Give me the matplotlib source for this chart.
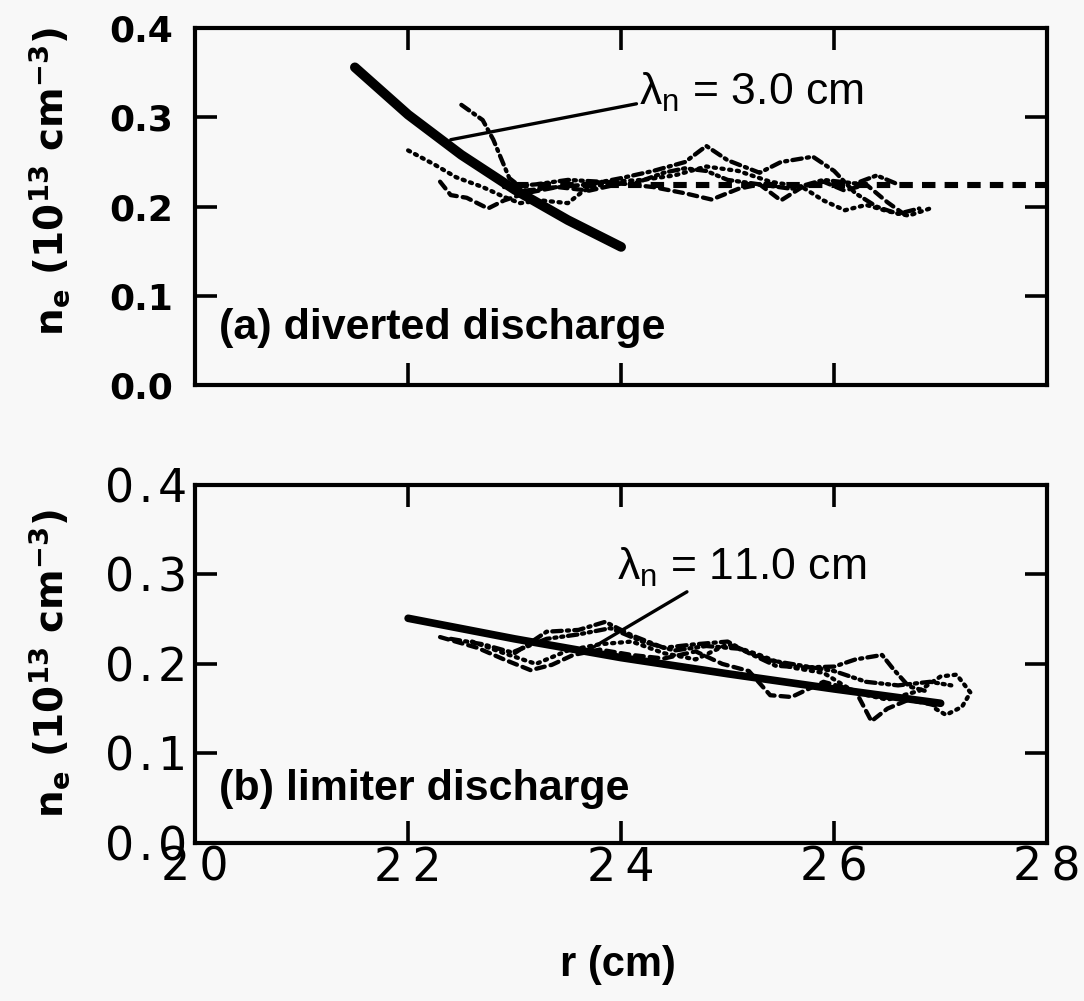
import matplotlib
matplotlib.use("Agg")
import matplotlib.pyplot as plt

# ---- data ----
# (a) diverted discharge
fit_a_r = [21.5, 22.0, 22.5, 23.0, 23.5, 24.0]
fit_a_n = [0.356, 0.303, 0.258, 0.219, 0.185, 0.155]
flat_a_r = [23.0, 28.0]
flat_a_n = [0.224, 0.224]

a1_r = [22.5, 22.7, 22.8, 22.95, 23.1, 23.4, 23.7, 24.0, 24.3, 24.6, 24.8, 25.0, 25.3, 25.5, 25.8, 26.0, 26.2, 26.4, 26.6, 26.8]
a1_n = [0.314, 0.297, 0.275, 0.232, 0.218, 0.222, 0.225, 0.232, 0.240, 0.250, 0.268, 0.252, 0.238, 0.250, 0.256, 0.240, 0.215, 0.200, 0.192, 0.198]
a2_r = [22.0, 22.25, 22.45, 22.7, 22.9, 23.05, 23.25, 23.5, 23.65, 23.9, 24.2, 24.5, 24.8, 25.1, 25.4, 25.7, 25.9, 26.1, 26.3, 26.5, 26.7, 26.9]
a2_n = [0.263, 0.247, 0.233, 0.222, 0.211, 0.204, 0.207, 0.204, 0.218, 0.228, 0.230, 0.235, 0.245, 0.240, 0.228, 0.222, 0.207, 0.196, 0.202, 0.195, 0.190, 0.198]
a3_r = [22.3, 22.4, 22.55, 22.75, 22.9, 23.1, 23.4, 23.7, 24.0, 24.3, 24.6, 24.85, 25.1, 25.3, 25.5, 25.7, 25.9, 26.1, 26.3, 26.5, 26.7]
a3_n = [0.228, 0.213, 0.210, 0.198, 0.207, 0.215, 0.222, 0.218, 0.226, 0.222, 0.215, 0.208, 0.220, 0.225, 0.207, 0.222, 0.228, 0.218, 0.225, 0.205, 0.188]
a4_r = [22.9, 23.2, 23.5, 23.8, 24.1, 24.4, 24.6, 24.8, 25.0, 25.3, 25.6, 25.9, 26.2, 26.4, 26.6]
a4_n = [0.222, 0.225, 0.230, 0.228, 0.225, 0.238, 0.243, 0.240, 0.230, 0.225, 0.220, 0.230, 0.226, 0.235, 0.225]

# (b) limiter discharge
fit_b_r = [22.0, 23.0, 24.0, 25.0, 26.0, 27.0]
fit_b_n = [0.251, 0.228, 0.207, 0.189, 0.172, 0.156]

b1_r = [22.4, 22.7, 23.0, 23.3, 23.6, 23.85, 24.1, 24.4, 24.7, 25.0, 25.2, 25.45, 25.7, 26.0, 26.2, 26.45, 26.55, 26.7, 26.85]
b1_n = [0.228, 0.222, 0.212, 0.236, 0.238, 0.247, 0.232, 0.218, 0.222, 0.225, 0.212, 0.198, 0.196, 0.197, 0.205, 0.210, 0.195, 0.175, 0.170]
b2_r = [22.3, 22.65, 22.9, 23.15, 23.35, 23.55, 23.8, 24.1, 24.4, 24.7, 24.95, 25.2, 25.4, 25.6, 25.9, 26.2, 26.35, 26.5, 26.7, 26.9, 27.0]
b2_n = [0.230, 0.218, 0.205, 0.193, 0.199, 0.210, 0.216, 0.210, 0.206, 0.214, 0.200, 0.192, 0.165, 0.163, 0.180, 0.170, 0.136, 0.150, 0.160, 0.155, 0.152]
b3_r = [22.6, 22.9, 23.2, 23.5, 23.8, 24.1, 24.4, 24.7, 25.0, 25.3, 25.6, 25.9, 26.2, 26.5, 26.8, 27.0, 27.15, 27.28, 27.2, 27.05, 26.95]
b3_n = [0.225, 0.212, 0.200, 0.215, 0.222, 0.225, 0.212, 0.205, 0.222, 0.210, 0.196, 0.190, 0.168, 0.160, 0.170, 0.186, 0.188, 0.168, 0.152, 0.143, 0.150]
b4_r = [23.0, 23.3, 23.6, 23.9, 24.2, 24.5, 24.8, 25.1, 25.4, 25.7, 26.0, 26.3, 26.6, 26.9, 27.1]
b4_n = [0.214, 0.228, 0.233, 0.240, 0.225, 0.215, 0.220, 0.217, 0.204, 0.198, 0.192, 0.180, 0.176, 0.180, 0.176]

xticks = [20, 22, 24, 26, 28]
yticks = [0.0, 0.1, 0.2, 0.3, 0.4]
ylabel = r"n$_\mathregular{e}$ (10$^\mathregular{13}$ cm$^\mathregular{-3}$)"

bg = "#f8f8f8"
fig = plt.figure(figsize=(10.84, 10.01), dpi=100, facecolor=bg)
ax_a = fig.add_axes([0.180, 0.615, 0.786, 0.357], facecolor=bg)
ax_b = fig.add_axes([0.180, 0.158, 0.786, 0.3575], facecolor=bg)

dot = (0, (0.5, 1.3))
dash = (0, (2.0, 1.4))
dashdot = (0, (2.2, 1.2, 0.5, 1.2))
dashdotdot = (0, (2.2, 1.1, 0.5, 1.1, 0.5, 1.1))

trace_kw = dict(color="black", lw=3.1, dash_capstyle="round")

# panel (a)
ax_a.plot(a1_r, a1_n, ls=dashdot, **trace_kw)
ax_a.plot(a2_r, a2_n, ls=dot, **trace_kw)
ax_a.plot(a3_r, a3_n, ls=dash, **trace_kw)
ax_a.plot(a4_r, a4_n, ls=dashdotdot, **trace_kw)
ax_a.plot(flat_a_r, flat_a_n, color="black", lw=4.4, ls=(0, (2.2, 1.5)))
ax_a.plot(fit_a_r, fit_a_n, color="black", lw=7.0, solid_capstyle="round")
ax_a.annotate("λ$_\\mathregular{n}$ = 3.0 cm", xy=(22.4, 0.275), xytext=(24.17, 0.314),
              fontsize=32, family="Liberation Sans", va="baseline",
              arrowprops=dict(arrowstyle="-", lw=2.4, color="black", shrinkA=0, shrinkB=0,
                              relpos=(0.0, 0.25)))
ax_a.text(20.22, 0.064, "(a) diverted discharge", fontsize=31, fontweight="bold",
          family="Liberation Sans", va="center")

# panel (b)
ax_b.plot(b1_r, b1_n, ls=dashdot, **trace_kw)
ax_b.plot(b2_r, b2_n, ls=dash, **trace_kw)
ax_b.plot(b3_r, b3_n, ls=dot, **trace_kw)
ax_b.plot(b4_r, b4_n, ls=dashdotdot, **trace_kw)
ax_b.plot(fit_b_r, fit_b_n, color="black", lw=5.5, solid_capstyle="round")
ax_b.annotate("λ$_\\mathregular{n}$ = 11.0 cm", xy=(23.7, 0.216), xytext=(23.96, 0.294),
              fontsize=32, family="Liberation Sans", va="baseline",
              arrowprops=dict(arrowstyle="-", lw=2.4, color="black", shrinkA=0, shrinkB=0,
                              relpos=(0.3, 0.0)))
ax_b.text(20.22, 0.06, "(b) limiter discharge", fontsize=31, fontweight="bold",
          family="Liberation Sans", va="center")

for ax in (ax_a, ax_b):
    ax.set_xlim(20, 28)
    ax.set_ylim(0, 0.4)
    ax.set_xticks(xticks)
    ax.set_yticks(yticks)
    ax.tick_params(direction="in", length=16, width=2.6, top=True, right=True)
    for s in ax.spines.values():
        s.set_linewidth(3.0)

ax_a.set_xticklabels([])
ax_a.set_yticklabels([f"{v:.1f}" for v in yticks], fontsize=26, fontweight="bold")
ax_a.tick_params(axis="y", pad=16)

# bottom panel uses a wider, spaced-out lettering
ax_b.set_xticklabels(["\u2009".join(str(v)) for v in xticks], fontsize=33, family="DejaVu Sans")
ax_b.set_yticklabels([f"{v:.1f}".replace(".", "\u200a.\u200a") for v in yticks],
                     fontsize=33, family="DejaVu Sans")
ax_b.tick_params(axis="y", pad=6)
ax_b.tick_params(axis="x", pad=2)

for ax, yc in ((ax_a, 0.57), (ax_b, 0.5)):
    ax.set_ylabel(ylabel, fontsize=28, fontweight="bold", family="DejaVu Sans")
    ax.yaxis.set_label_coords(-0.145, yc)

fig.text(0.57, 0.036, "r (cm)", fontsize=30, fontweight="bold", family="Liberation Sans",
         ha="center", va="center")

fig.savefig("out.png", dpi=100, facecolor=bg)
